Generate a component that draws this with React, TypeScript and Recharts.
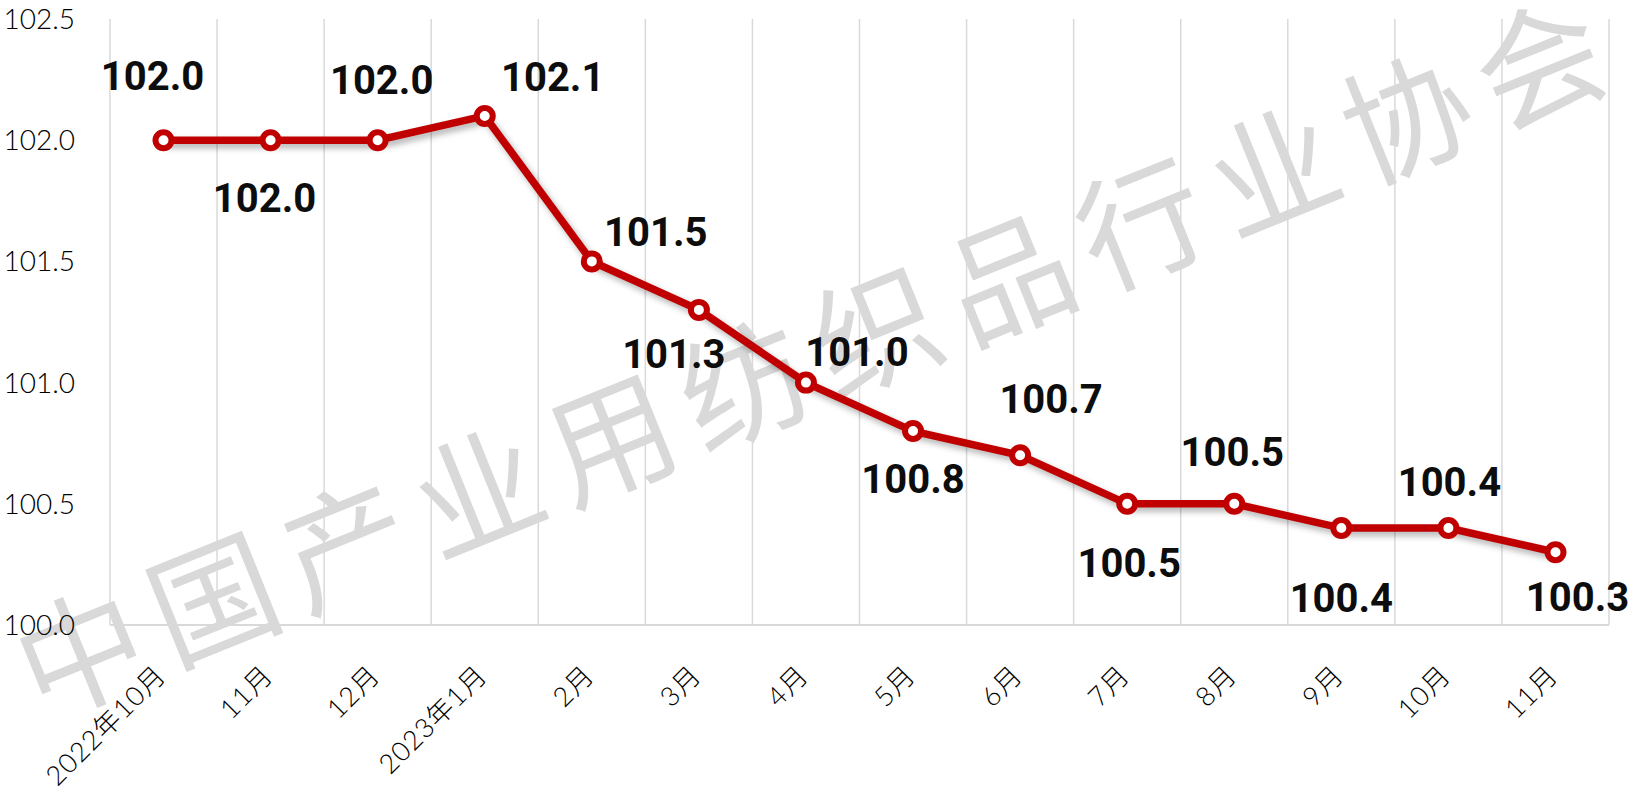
import { LineChart, Line, XAxis, YAxis, CartesianGrid, LabelList } from "recharts";

const months = ["2022年10月", "11月", "12月", "2023年1月", "2月", "3月", "4月", "5月", "6月", "7月", "8月", "9月", "10月", "11月"];
const values = [102.0, 102.0, 102.0, 102.1, 101.5, 101.3, 101.0, 100.8, 100.7, 100.5, 100.5, 100.4, 100.4, 100.3];
const yTicks = [100, 100.5, 101, 101.5, 102, 102.5];
const watermark = "中国产业用纺织品行业协会";

// where each value label sits relative to its point
const labelOffsets = [
    [-11, -64], [-6, 58], [4, -60], [68, -38], [64, -29], [-25, 45], [51, -30],
    [0, 48], [31, -56], [2, 60], [-2, -51], [0, 70], [1, -46], [22, 45],
];

const data = months.map((month, i) => ({ month, value: values[i] }));

const RED = "#c00000";
const GRID = "#d9d9d9";

const MonthTick = ({ x, y, payload }: any) => (
    <text
        x={x + 4}
        y={y + 44}
        textAnchor="end"
        transform={`rotate(-45, ${x + 4}, ${y + 44})`}
        fontFamily="Lato, 'Noto Sans CJK SC', sans-serif"
        fontWeight={300}
        fontSize={27}
        letterSpacing={1}
        fill="#000"
    >
        {payload.value}
    </text>
);

const ValueLabel = ({ x, y, value, index }: any) => {
    const [dx, dy] = labelOffsets[index];
    return (
        <text
            x={x + dx}
            y={y + dy}
            textAnchor="middle"
            dominantBaseline="central"
            fontFamily="Roboto, sans-serif"
            fontWeight={700}
            fontSize={40}
            fill="#0d0d0d"
        >
            {Number(value).toFixed(1)}
        </text>
    );
};

const App = () => {
    return (
        <div style={{ position: "relative", width: 1633, height: 801, background: "#fff" }}>
            <style>{`body{margin:0} .recharts-line-curve{filter:drop-shadow(3px 4px 3px rgba(0,0,0,0.3))}`}</style>
            <svg width={1633} height={801} style={{ position: "absolute", left: 0, top: 0 }}>
                <text
                    x={815}
                    y={348}
                    textAnchor="middle"
                    dominantBaseline="central"
                    transform="rotate(-22, 815, 348)"
                    fontFamily="'Noto Sans CJK SC', sans-serif"
                    fontWeight={400}
                    fontSize={126}
                    letterSpacing={17}
                    fill="#d9d9d9"
                >
                    {watermark}
                </text>
            </svg>
            <div style={{ position: "absolute", left: 0, top: 0 }}>
                <LineChart width={1633} height={801} data={data} margin={{ top: 19, right: 24, bottom: 0, left: 0 }}>
                    <CartesianGrid
                        horizontal={false}
                        stroke={GRID}
                        strokeWidth={1.5}
                        verticalCoordinatesGenerator={({ offset }: any) =>
                            Array.from({ length: months.length + 1 }, (_, i) => offset.left + (i * offset.width) / months.length)
                        }
                    />
                    <XAxis
                        dataKey="month"
                        interval={0}
                        height={176}
                        padding={{ left: 53.5, right: 53.5 }}
                        tickLine={false}
                        axisLine={{ stroke: GRID, strokeWidth: 2 }}
                        tick={<MonthTick />}
                    />
                    <YAxis
                        domain={[100, 102.5]}
                        ticks={yTicks}
                        width={110}
                        axisLine={false}
                        tickLine={false}
                        tickMargin={29}
                        tickFormatter={(v: number) => v.toFixed(1)}
                        tick={{ fontFamily: "Lato, sans-serif", fontWeight: 300, fontSize: 28, fill: "#000" }}
                    />
                    <Line
                        type="linear"
                        dataKey="value"
                        stroke={RED}
                        strokeWidth={7.5}
                        dot={{ r: 8, fill: "#fff", stroke: RED, strokeWidth: 6 }}
                        isAnimationActive={false}
                    >
                        <LabelList dataKey="value" content={<ValueLabel />} />
                    </Line>
                </LineChart>
            </div>
        </div>
    );
};

export default App;
